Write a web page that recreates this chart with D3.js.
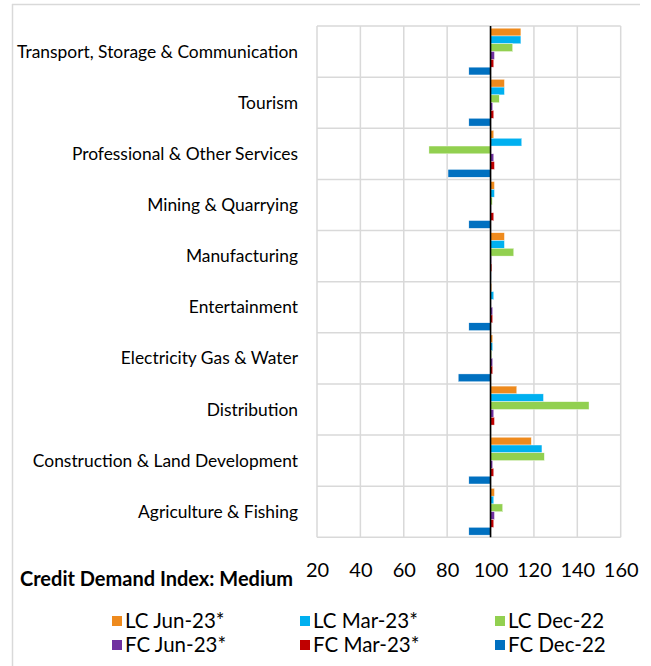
<!DOCTYPE html>
<html>
<head>
<meta charset="utf-8">
<script src="https://cdn.jsdelivr.net/npm/d3@7"></script>
<style>
  body { margin: 0; background: #fff; }
  svg { display: block; font-family: Lato, "Open Sans", sans-serif; }
</style>
</head>
<body>
<script>
// Sectors, top to bottom
const sectors = [
  "Transport, Storage & Communication",
  "Tourism",
  "Professional & Other Services",
  "Mining & Quarrying",
  "Manufacturing",
  "Entertainment",
  "Electricity Gas & Water",
  "Distribution",
  "Construction & Land Development",
  "Agriculture & Fishing"
];

const seriesNames = ["LC Jun-23*", "LC Mar-23*", "LC Dec-22", "FC Jun-23*", "FC Mar-23*", "FC Dec-22"];
const seriesColors = ["#EE8A1D", "#00B0F0", "#92D050", "#7030A0", "#C00000", "#0070C0"];

// values per series, same order as sectors
const lcJun23 = [114, 106.4, 101.5, 101.8, 106.4, 100.5, 101, 112.1, 118.8, 101.8];
const lcMar23 = [114, 106.4, 114.4, 101.8, 106.4, 101.5, 101, 124.4, 123.7, 101.5];
const lcDec22 = [110.2, 104, 71.6, 100.8, 110.7, 100, 100.5, 145.4, 124.8, 105.6];
const fcJun23 = [101.8, 101, 101.5, 100.3, 100.4, 101, 101, 101.5, 101, 101.8];
const fcMar23 = [101.5, 101.5, 101.8, 101.5, 100.6, 101, 101, 101.8, 101.5, 101.5];
const fcDec22 = [90, 90, 80.4, 90, 100.3, 90, 85.1, 100, 90, 90];
const seriesValues = [lcJun23, lcMar23, lcDec22, fcJun23, fcMar23, fcDec22];

const xTicks = [20, 40, 60, 80, 100, 120, 140, 160];
const baseValue = 100;

const W = 651, H = 666;
const plot = { left: 317, right: 620.7, top: 26, bottom: 537.3 };

const svg = d3.select("body").append("svg")
  .attr("width", W)
  .attr("height", H);

// outer chart frame (only top and left edges are visible)
svg.append("line").attr("x1", 12).attr("x2", 640).attr("y1", 4.5).attr("y2", 4.5)
  .attr("stroke", "#d9d9d9").attr("stroke-width", 1.5);
svg.append("line").attr("x1", 12.5).attr("x2", 12.5).attr("y1", 4).attr("y2", H)
  .attr("stroke", "#d9d9d9").attr("stroke-width", 1.5);

const x = d3.scaleLinear().domain([20, 160]).range([plot.left, plot.right]);
const y = d3.scaleBand().domain(sectors).range([plot.top, plot.bottom]).padding(0);
const ySub = d3.scaleBand().domain(seriesNames).range([0, y.bandwidth()]).paddingOuter(0.28).paddingInner(0);

// gridlines
const grid = svg.append("g").attr("stroke", "#d9d9d9").attr("stroke-width", 1.5);
grid.selectAll("line.v").data(xTicks).enter().append("line")
  .attr("class", "v")
  .attr("x1", d => x(d)).attr("x2", d => x(d))
  .attr("y1", plot.top).attr("y2", plot.bottom);
grid.selectAll("line.h").data(sectors.concat(["__end"])).enter().append("line")
  .attr("class", "h")
  .attr("x1", plot.left).attr("x2", plot.right)
  .attr("y1", d => d === "__end" ? plot.bottom : y(d))
  .attr("y2", d => d === "__end" ? plot.bottom : y(d));

// bars
const rows = [];
sectors.forEach((s, i) => {
  seriesNames.forEach((n, j) => {
    rows.push({ sector: s, series: n, value: seriesValues[j][i], color: seriesColors[j] });
  });
});

svg.append("g").selectAll("rect").data(rows).enter().append("rect")
  .attr("x", d => x(Math.min(d.value, baseValue)))
  .attr("width", d => Math.abs(x(d.value) - x(baseValue)))
  .attr("y", d => y(d.sector) + ySub(d.series))
  .attr("height", ySub.bandwidth())
  .attr("fill", d => d.color)
  .attr("stroke", "#fff")
  .attr("stroke-width", 0.4);

// vertical axis line at 100
svg.append("line")
  .attr("x1", x(baseValue)).attr("x2", x(baseValue))
  .attr("y1", plot.top).attr("y2", plot.bottom)
  .attr("stroke", "#000").attr("stroke-width", 1.6);

// category labels
svg.append("g").selectAll("text").data(sectors).enter().append("text")
  .attr("x", 298)
  .attr("y", d => y(d) + y.bandwidth() / 2)
  .attr("dy", "0.35em")
  .attr("text-anchor", "end")
  .style("font-size", "17.4px")
  .style("fill", "#000")
  .text(d => d);

// x axis tick labels
const xAxis = svg.append("g")
  .attr("transform", `translate(0, ${plot.bottom})`)
  .call(d3.axisBottom(x).tickValues(xTicks).tickSize(0).tickFormat(d3.format("d")));
xAxis.select(".domain").remove();
xAxis.selectAll("text")
  .attr("y", 40)
  .attr("dy", 0)
  .style("font-family", "Lato, 'Open Sans', sans-serif")
  .style("font-size", "20px")
  .style("fill", "#000");

// axis title
svg.append("text")
  .attr("x", 20)
  .attr("y", 586)
  .style("font-size", "20px")
  .style("font-weight", "bold")
  .style("fill", "#000")
  .text("Credit Demand Index: Medium");

// legend
const legendCols = [112, 300, 495];
const legendRows = [621, 645];
const legend = svg.append("g").selectAll("g").data(seriesNames).enter().append("g")
  .attr("transform", (d, i) => `translate(${legendCols[i % 3]}, ${legendRows[Math.floor(i / 3)]})`);
legend.append("rect")
  .attr("x", 0).attr("y", -5).attr("width", 10).attr("height", 10)
  .attr("fill", (d, i) => seriesColors[i]);
legend.append("text")
  .attr("x", 13).attr("y", 0).attr("dy", "0.35em")
  .style("font-size", "20.5px")
  .style("fill", "#000")
  .text(d => d);
</script>
</body>
</html>
